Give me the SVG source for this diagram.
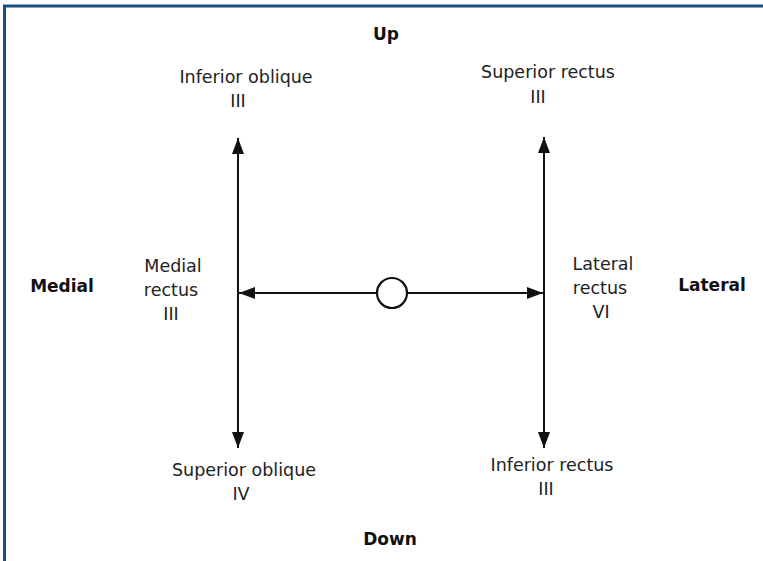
<svg xmlns="http://www.w3.org/2000/svg" width="763" height="561" viewBox="0 0 763 561">
<style>
.t{font-family:"DejaVu Sans","Liberation Sans",sans-serif;font-size:17.5px;fill:#222;text-anchor:middle}
.b{font-family:"DejaVu Sans","Liberation Sans",sans-serif;font-size:17px;font-weight:bold;fill:#111;text-anchor:middle}
.ln{stroke:#111;stroke-width:2;fill:none}
</style>
<defs>
<marker id="ah" markerWidth="16" markerHeight="12" refX="16" refY="6" orient="auto" markerUnits="userSpaceOnUse">
<path d="M0,0 L16,6 L0,12 Z" fill="#111"/>
</marker>
</defs>
<rect width="763" height="561" fill="#fff"/>
<path d="M4.5,561 V6 H763" stroke="#1a4f80" stroke-width="3" fill="none"/>
<g id="connectors">
<line class="ln" x1="238" y1="293" x2="238" y2="138" marker-end="url(#ah)"/>
<line class="ln" x1="238" y1="293" x2="238" y2="448" marker-end="url(#ah)"/>
<line class="ln" x1="544" y1="293" x2="544" y2="137" marker-end="url(#ah)"/>
<line class="ln" x1="544" y1="293" x2="544" y2="448" marker-end="url(#ah)"/>
<line class="ln" x1="377" y1="293" x2="239" y2="293" marker-end="url(#ah)"/>
<line class="ln" x1="407" y1="293" x2="543" y2="293" marker-end="url(#ah)"/>
</g>
<g id="center"><circle cx="392" cy="293" r="15" fill="#fff" stroke="#111" stroke-width="2.2"/></g>
<g id="up"><text class="b" x="386" y="40">Up</text></g>
<g id="down"><text class="b" x="390" y="545">Down</text></g>
<g id="medial"><text class="b" x="62" y="292">Medial</text></g>
<g id="lateral"><text class="b" x="712" y="291">Lateral</text></g>
<g id="inferior-oblique"><text class="t" x="246" y="83">Inferior oblique</text><text class="t" x="238" y="107">III</text></g>
<g id="superior-rectus"><text class="t" x="548" y="78">Superior rectus</text><text class="t" x="538" y="103">III</text></g>
<g id="medial-rectus"><text class="t" x="173" y="272">Medial</text><text class="t" x="171" y="296">rectus</text><text class="t" x="171" y="320">III</text></g>
<g id="lateral-rectus"><text class="t" x="603" y="270">Lateral</text><text class="t" x="600" y="294">rectus</text><text class="t" x="601" y="318">VI</text></g>
<g id="superior-oblique"><text class="t" x="244" y="476">Superior oblique</text><text class="t" x="241" y="500">IV</text></g>
<g id="inferior-rectus"><text class="t" x="552" y="471">Inferior rectus</text><text class="t" x="546" y="495">III</text></g>
</svg>
